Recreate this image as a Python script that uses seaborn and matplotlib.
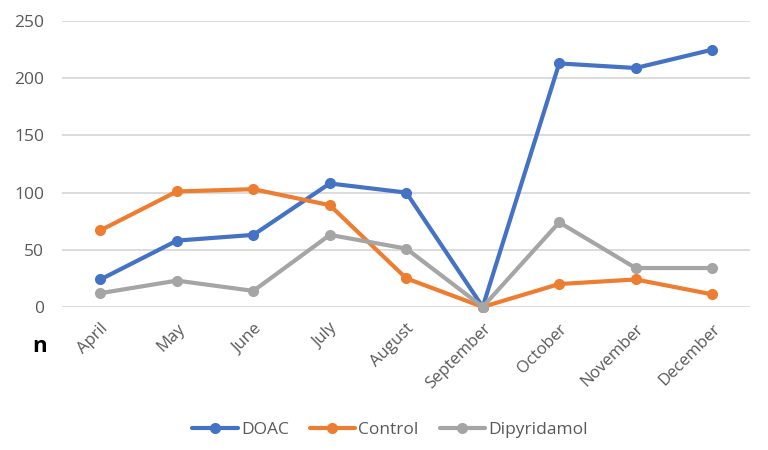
import matplotlib
matplotlib.use("Agg")
import matplotlib.pyplot as plt
import seaborn as sns
import pandas as pd

months = ["April", "May", "June", "July", "August", "September", "October", "November", "December"]
doac = [24, 58, 63, 108, 100, 0, 213, 209, 225]
control = [67, 101, 103, 89, 25, 0, 20, 24, 11]
dipyridamol = [12, 23, 14, 63, 51, 0, 74, 34, 34]
series_names = ["DOAC", "Control", "Dipyridamol"]
colors = ["#4472C4", "#ED7D31", "#A5A5A5"]
yticks = [0, 50, 100, 150, 200, 250]

rows = []
for name, vals in zip(series_names, [doac, control, dipyridamol]):
    for i, (m, v) in enumerate(zip(months, vals)):
        rows.append({"pos": i, "month": m, "value": v, "series": name})
df = pd.DataFrame(rows)

sns.set_theme(style="white")
plt.rcParams["font.family"] = ["Open Sans", "DejaVu Sans"]

fig = plt.figure(figsize=(7.68, 4.5), dpi=100)
ax = fig.add_axes([0.081, 0.318, 0.896, 0.635])

sns.lineplot(data=df, x="pos", y="value", hue="series", hue_order=series_names,
             palette=colors, marker="o", markersize=8, markeredgewidth=0,
             linewidth=3, sort=False, ax=ax, legend=True)

ax.set_xlim(-0.5, len(months) - 0.5)
ax.set_ylim(0, 250)
ax.set_yticks(yticks)
ax.set_yticklabels([str(t) for t in yticks], fontsize=12.5, color="#595959")
ax.set_xticks(range(len(months)))
ax.set_xticklabels(months, rotation=45, ha="right", rotation_mode="anchor",
                   fontsize=12, color="#595959")
ax.tick_params(axis="both", length=0)
ax.tick_params(axis="y", pad=13)
ax.tick_params(axis="x", pad=10)
ax.grid(axis="y", color="#D9D9D9", linewidth=1.3)
ax.set_axisbelow(True)
for s in ax.spines.values():
    s.set_visible(False)
ax.set_xlabel("")
ax.set_ylabel("")

for line in ax.lines:
    line.set_clip_on(False)

fig.text(0.051, 0.231, "n", fontsize=16, fontweight="bold", color="black",
         ha="center", va="center")

handles, labels = ax.get_legend_handles_labels()
ax.legend_.remove()
fig.legend(handles, labels, loc="center", bbox_to_anchor=(0.508, 0.045), ncol=3,
           frameon=False, fontsize=12.5, handlelength=2.6, columnspacing=1.2,
           handletextpad=0.2, labelcolor="#595959")

fig.savefig("out.png", dpi=100, facecolor="white")
